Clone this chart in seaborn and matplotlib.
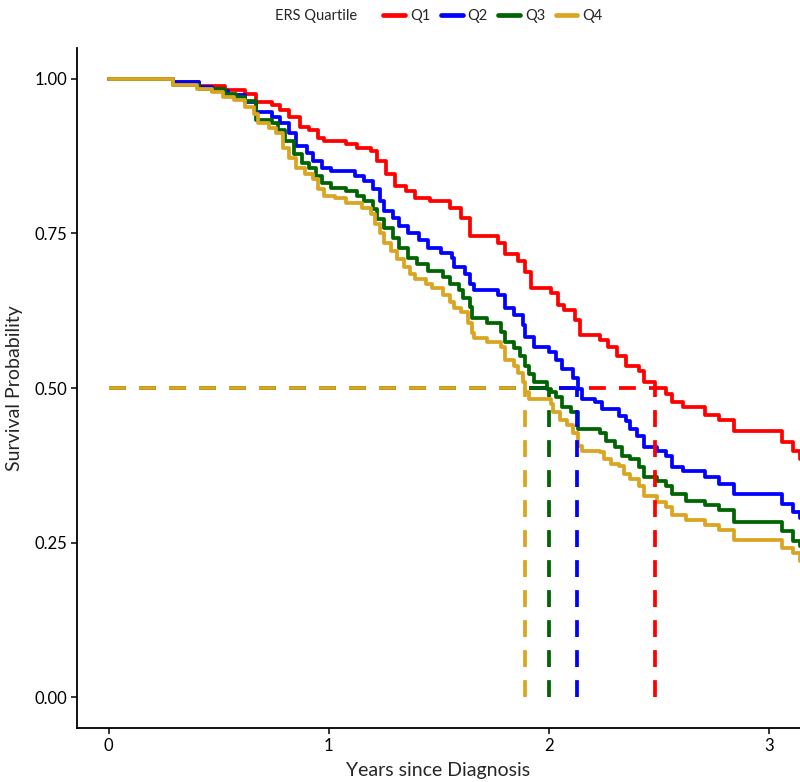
import numpy as np
import pandas as pd
import matplotlib
matplotlib.use("Agg")
import matplotlib.pyplot as plt
from matplotlib.lines import Line2D
import seaborn as sns

# Kaplan-Meier curves: (event time, survival after it)
q1_t = [0.00, 0.29, 0.41, 0.53, 0.62, 0.67, 0.74, 0.78, 0.82, 0.87, 0.91, 0.95, 0.98,
        1.08, 1.13, 1.19, 1.22, 1.26, 1.30, 1.35, 1.39, 1.46, 1.55, 1.60, 1.64, 1.77,
        1.80, 1.86, 1.89, 1.92, 2.01, 2.04, 2.07, 2.12, 2.14, 2.23, 2.27, 2.31, 2.35,
        2.41, 2.43, 2.48, 2.53, 2.56, 2.61, 2.71, 2.77, 2.84, 3.06, 3.11, 3.14]
q1_s = [1.000, 0.995, 0.989, 0.982, 0.976, 0.963, 0.958, 0.950, 0.939, 0.923, 0.918, 0.904, 0.899,
        0.894, 0.888, 0.883, 0.867, 0.846, 0.827, 0.819, 0.807, 0.803, 0.791, 0.775, 0.746, 0.735,
        0.717, 0.706, 0.687, 0.661, 0.653, 0.634, 0.626, 0.610, 0.586, 0.578, 0.567, 0.551, 0.535,
        0.527, 0.509, 0.500, 0.490, 0.477, 0.469, 0.457, 0.449, 0.430, 0.412, 0.398, 0.385]

q2_t = [0.00, 0.29, 0.41, 0.47, 0.54, 0.62, 0.67, 0.74, 0.78, 0.82, 0.85, 0.90, 0.93, 0.97,
        1.01, 1.12, 1.16, 1.20, 1.23, 1.25, 1.29, 1.32, 1.36, 1.41, 1.45, 1.51, 1.56, 1.57,
        1.62, 1.64, 1.66, 1.77, 1.80, 1.84, 1.88, 1.89, 1.93, 2.00, 2.03, 2.06, 2.11, 2.13,
        2.15, 2.21, 2.24, 2.32, 2.35, 2.37, 2.40, 2.43, 2.49, 2.53, 2.56, 2.61, 2.71, 2.77,
        2.84, 3.06, 3.11, 3.14]
q2_s = [1.000, 0.995, 0.987, 0.981, 0.974, 0.963, 0.947, 0.939, 0.928, 0.912, 0.891, 0.880, 0.867, 0.856,
        0.851, 0.843, 0.835, 0.822, 0.803, 0.787, 0.775, 0.762, 0.750, 0.739, 0.727, 0.719, 0.711, 0.695,
        0.685, 0.669, 0.658, 0.650, 0.629, 0.618, 0.602, 0.583, 0.567, 0.559, 0.546, 0.530, 0.517, 0.498,
        0.482, 0.478, 0.466, 0.454, 0.446, 0.433, 0.422, 0.404, 0.398, 0.390, 0.372, 0.366, 0.356, 0.345,
        0.329, 0.313, 0.300, 0.289]

q3_t = [0.00, 0.29, 0.41, 0.53, 0.58, 0.62, 0.67, 0.74, 0.77, 0.80, 0.84, 0.88, 0.91, 0.94,
        0.97, 1.01, 1.08, 1.13, 1.16, 1.20, 1.22, 1.25, 1.29, 1.32, 1.36, 1.40, 1.45, 1.52,
        1.55, 1.59, 1.61, 1.64, 1.65, 1.72, 1.78, 1.80, 1.84, 1.87, 1.89, 1.91, 1.93, 1.99,
        2.01, 2.03, 2.06, 2.10, 2.13, 2.23, 2.26, 2.30, 2.33, 2.37, 2.41, 2.43, 2.49, 2.53,
        2.56, 2.62, 2.71, 2.77, 2.84, 3.06, 3.11, 3.14]
q3_s = [1.000, 0.990, 0.984, 0.976, 0.971, 0.965, 0.934, 0.928, 0.918, 0.899, 0.878, 0.864, 0.856, 0.843,
        0.831, 0.823, 0.819, 0.811, 0.803, 0.790, 0.774, 0.759, 0.743, 0.727, 0.711, 0.701, 0.690, 0.679,
        0.669, 0.658, 0.645, 0.631, 0.613, 0.605, 0.591, 0.575, 0.565, 0.551, 0.535, 0.522, 0.509, 0.498,
        0.494, 0.485, 0.470, 0.461, 0.433, 0.428, 0.414, 0.404, 0.390, 0.385, 0.372, 0.356, 0.350, 0.342,
        0.329, 0.318, 0.310, 0.302, 0.284, 0.268, 0.252, 0.244]

q4_t = [0.00, 0.29, 0.40, 0.47, 0.52, 0.57, 0.62, 0.66, 0.68, 0.73, 0.76, 0.79, 0.82, 0.85,
        0.89, 0.93, 0.95, 0.98, 1.03, 1.08, 1.15, 1.19, 1.21, 1.23, 1.25, 1.28, 1.31, 1.34,
        1.37, 1.39, 1.44, 1.47, 1.52, 1.55, 1.57, 1.60, 1.63, 1.65, 1.66, 1.72, 1.78, 1.80,
        1.84, 1.86, 1.88, 1.89, 1.91, 2.01, 2.02, 2.05, 2.08, 2.11, 2.13, 2.15, 2.23, 2.25,
        2.28, 2.32, 2.34, 2.37, 2.41, 2.43, 2.49, 2.53, 2.56, 2.62, 2.71, 2.77, 2.84, 3.06,
        3.11, 3.14]
q4_s = [1.000, 0.990, 0.984, 0.979, 0.971, 0.966, 0.955, 0.944, 0.928, 0.920, 0.912, 0.888, 0.872, 0.856,
        0.846, 0.838, 0.822, 0.811, 0.807, 0.799, 0.791, 0.782, 0.766, 0.750, 0.735, 0.722, 0.709, 0.695,
        0.685, 0.677, 0.669, 0.661, 0.650, 0.639, 0.629, 0.623, 0.605, 0.589, 0.581, 0.575, 0.567, 0.546,
        0.535, 0.525, 0.509, 0.494, 0.482, 0.474, 0.461, 0.449, 0.441, 0.428, 0.406, 0.398, 0.396, 0.385,
        0.377, 0.374, 0.361, 0.353, 0.342, 0.326, 0.316, 0.308, 0.294, 0.286, 0.278, 0.270, 0.254, 0.241,
        0.233, 0.220]

groups = ["Q1", "Q2", "Q3", "Q4"]
medians = [2.48, 2.125, 2.0, 1.89]
colors = ["#FF0000", "#0000FF", "#006400", "#DAA520"]
END_T = 3.3

curves = {"Q1": (q1_t, q1_s), "Q2": (q2_t, q2_s), "Q3": (q3_t, q3_s), "Q4": (q4_t, q4_s)}
rows = []
for g in groups:
    t, s = curves[g]
    for ti, si in zip(list(t) + [END_T], list(s) + [s[-1]]):
        rows.append({"time": ti, "surv": si, "quartile": g})
df = pd.DataFrame(rows)
palette = dict(zip(groups, colors))

sns.set_style("ticks")
plt.rcParams["font.family"] = ["Lato", "DejaVu Sans"]

fig = plt.figure(figsize=(8, 7.82), dpi=100)
ax = fig.add_axes([0.096, 0.069, 0.904, 0.8696])

sns.lineplot(data=df, x="time", y="surv", hue="quartile", hue_order=groups,
             palette=palette, estimator=None, sort=True, drawstyle="steps-post",
             linewidth=2.7, legend=False, ax=ax)

# median survival guides
dash = (4.5, 3.5)
for g, m in zip(groups, medians):
    ax.plot([0, m], [0.5, 0.5], color=palette[g], lw=2.7, dashes=dash, zorder=3)
for g, m in zip(groups, medians):
    ax.plot([m, m], [0, 0.5], color=palette[g], lw=2.7, dashes=dash, zorder=3)

ax.set_xlim(-0.145, 3.14)
ax.set_ylim(-0.05, 1.05)
ax.set_xticks([0, 1, 2, 3])
ax.set_xticklabels(["0", "1", "2", "3"])
ax.set_yticks([0, 0.25, 0.5, 0.75, 1.0])
ax.set_yticklabels(["0.00", "0.25", "0.50", "0.75", "1.00"])
ax.tick_params(labelsize=12, length=4, width=1.1, color="black", labelcolor="black", pad=3)
ax.set_xlabel("Years since Diagnosis", fontsize=14, labelpad=6)
ax.set_ylabel("Survival Probability", fontsize=14, labelpad=8)
sns.despine(ax=ax)
for side in ["left", "bottom"]:
    ax.spines[side].set_linewidth(1.3)
    ax.spines[side].set_color("black")

# legend across the top
fig.text(0.344, 1 - 16 / 782, "ERS Quartile", fontsize=10.5, ha="left", va="center")
handles = [Line2D([0], [0], color=c, lw=3.4) for c in colors]
fig.legend(handles, groups, loc="center left", bbox_to_anchor=(0.479, 1 - 16 / 782),
           ncol=4, frameon=False, fontsize=10.5, handlelength=1.5, handletextpad=0.35,
           columnspacing=0.7, borderaxespad=0, borderpad=0)

fig.savefig("out.png", dpi=100)
